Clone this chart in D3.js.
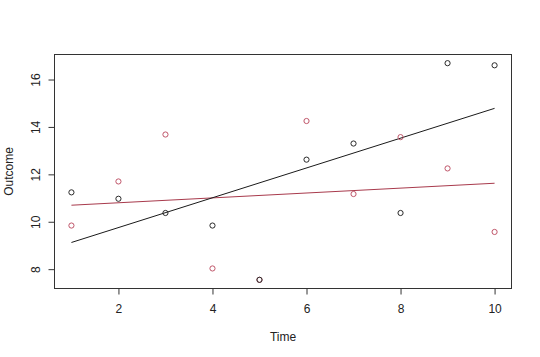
<!DOCTYPE html>
<html><head><meta charset="utf-8">
<script src="https://cdn.jsdelivr.net/npm/d3@7"></script>
<style>body{margin:0;background:#fff}svg{display:block}text{font-family:"Liberation Sans",Arial,sans-serif;fill:#222}</style>
</head><body>
<script>
const time = [1,2,3,4,5,6,7,8,9,10];
const outcomeBlack = [11.24,10.97,10.37,9.84,7.55,12.62,13.30,10.37,16.69,16.60];
const outcomeRed   = [9.84,11.70,13.68,8.03,7.55,14.25,11.17,13.57,12.25,9.57];
const xTicks = [2,4,6,8,10];
const yTicks = [8,10,12,14,16];
const xTitle = "Time", yTitle = "Outcome";

const W=540,H=357;
const svg=d3.select("body").append("svg").attr("width",W).attr("height",H);
const L=54.5,R=511.5,T=54.5,B=288.5;
const all=outcomeBlack.concat(outcomeRed);
const ymin=d3.min(all), ymax=d3.max(all), yr=ymax-ymin;
const x=d3.scaleLinear().domain([1-0.36,10+0.36]).range([L,R]);
const y=d3.scaleLinear().domain([ymin-0.04*yr,ymax+0.04*yr]).range([B,T]);

svg.append("rect").attr("x",L).attr("y",T).attr("width",R-L).attr("height",B-T)
  .attr("fill","none").attr("stroke","#333").attr("stroke-width",1);

const xa=svg.append("g").attr("transform",`translate(0,${B})`)
  .call(d3.axisBottom(x).tickValues(xTicks).tickSize(6).tickPadding(10).tickFormat(d3.format("d")));
xa.select(".domain").remove();
xa.selectAll("line").attr("stroke","#333");
xa.selectAll("text").attr("font-size",12).attr("fill","#222");

const ya=svg.append("g").attr("transform",`translate(${L},0)`)
  .call(d3.axisLeft(y).tickValues(yTicks).tickSize(6).tickPadding(0).tickFormat(d3.format("d")));
ya.select(".domain").remove();
ya.selectAll("line").attr("stroke","#333");
ya.selectAll(".tick text").attr("font-size",12).attr("fill","#222")
  .attr("text-anchor","middle").attr("x",null).attr("y",0).attr("dy",null)
  .attr("dominant-baseline","central")
  .attr("transform","translate(-19,0) rotate(-90)");

svg.append("text").attr("x",(L+R)/2).attr("y",341).attr("text-anchor","middle").attr("font-size",12).text(xTitle);
svg.append("text").attr("transform",`translate(13,${(T+B)/2}) rotate(-90)`).attr("text-anchor","middle").attr("font-size",12).text(yTitle);

function fit(xs,ys){
  const mx=d3.mean(xs),my=d3.mean(ys);
  const b=d3.sum(xs,(v,i)=>(v-mx)*(ys[i]-my))/d3.sum(xs,v=>(v-mx)*(v-mx));
  return [my-b*mx,b];
}
const series=[{v:outcomeRed,c:"#c0566a",lc:"#a83a4c"},{v:outcomeBlack,c:"#2a2a2a",lc:"#1a1a1a"}];
series.forEach(s=>{
  const [a,b]=fit(time,s.v);
  const x0=d3.min(time),x1=d3.max(time);
  svg.append("line").attr("x1",x(x0)).attr("y1",y(a+b*x0)).attr("x2",x(x1)).attr("y2",y(a+b*x1))
    .attr("stroke",s.lc).attr("stroke-width",1);
});
series.forEach(s=>{
  svg.append("g").selectAll("circle").data(time).join("circle")
    .attr("cx",d=>x(d)).attr("cy",(d,i)=>y(s.v[i])).attr("r",2.6)
    .attr("fill","none").attr("stroke",s.c).attr("stroke-width",1);
});
</script>
</body></html>
